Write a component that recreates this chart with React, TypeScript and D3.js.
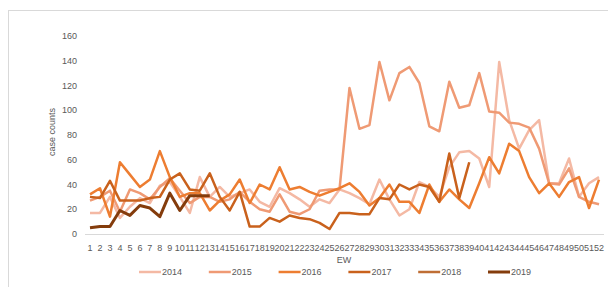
import React, { useEffect, useRef } from "react";
import * as d3 from "d3";

const weeks = d3.range(1, 53).map(String);
const years = ["2014", "2015", "2016", "2017", "2018", "2019"];
const yTicks = [0, 20, 40, 60, 80, 100, 120, 140, 160];

const cases2014 = [17, 17, 30, 13, 22, 29, 25, 39, 42, 30, 17, 46, 30, 38, 30, 33, 36, 26, 22, 37, 33, 28, 22, 28, 25, 36,
  33, 29, 24, 44, 28, 15, 20, 42, 38, 30, 54, 66, 67, 61, 38, 139, 92, 69, 84, 92, 41, 41, 61, 30, 41, 46];
const cases2015 = [27, 30, 35, 18, 36, 33, 28, 38, 45, 35, 25, 30, 30, 26, 28, 34, 26, 20, 18, 32, 18, 16, 20, 35, 36, 36,
  118, 85, 88, 139, 108, 130, 135, 122, 87, 83, 123, 102, 104, 130, 99, 98, 90, 89, 86, 69, 41, 40, 53, 30, 26, 24];
const cases2016 = [32, 37, 14, 58, 48, 38, 44, 67, 46, 30, 33, 33, 19, 27, 32, 44, 25, 40, 36, 54, 36, 38, 34, 31, 34, 37,
  41, 34, 23, 29, 40, 26, 26, 17, 40, 26, 36, 28, 21, 41, 62, 49, 73, 67, 46, 33, 41, 30, 42, 46, 21, 44];
const cases2017 = [30, 29, 43, 27, 27, 27, 29, 30, 44, 49, 36, 35, 49, 30, 19, 34, 6, 6, 13, 10, 15, 13, 12, 9, 4, 17,
  17, 16, 16, 29, 28, 40, 36, 40, 38, 26, 65, 29, 58];
const cases2018: number[] = [];
const cases2019 = [5, 6, 6, 19, 15, 23, 21, 14, 33, 19, 31, 31, 31];

const series = [cases2014, cases2015, cases2016, cases2017, cases2018, cases2019];
const colors = ["#F4B9A4", "#EF9A74", "#ED7D31", "#C9611C", "#BF6E34", "#843C0C"];
const widths = [2.5, 2.5, 2.5, 2.5, 2.5, 3];

export default function App() {
  const ref = useRef<SVGSVGElement>(null);

  useEffect(() => {
    const svg = d3.select(ref.current);
    svg.selectAll("*").remove();
    const font = "'Liberation Sans', Arial, sans-serif";

    svg.append("rect")
      .attr("x", 8.5).attr("y", 10.5)
      .attr("width", 640).attr("height", 300)
      .attr("fill", "#ffffff").attr("stroke", "#d9d9d9");

    const x = d3.scaleBand().domain(weeks).range([85, 604]).padding(0);
    const y = d3.scaleLinear().domain([0, 160]).range([234, 36]);
    const cx = (w: string) => (x(w) as number) + x.bandwidth() / 2;

    // y axis labels
    svg.append("g")
      .selectAll("text")
      .data(yTicks)
      .enter()
      .append("text")
      .attr("x", 77)
      .attr("y", d => y(d) + 3)
      .attr("text-anchor", "end")
      .attr("font-family", font)
      .attr("font-size", 9)
      .attr("fill", "#595959")
      .text(d => d);

    // x axis line
    svg.append("line")
      .attr("x1", 85).attr("x2", 604)
      .attr("y1", y(0) + 0.5).attr("y2", y(0) + 0.5)
      .attr("stroke", "#d9d9d9");

    svg.append("g")
      .selectAll("text")
      .data(weeks)
      .enter()
      .append("text")
      .attr("x", d => cx(d))
      .attr("y", 251)
      .attr("text-anchor", "middle")
      .attr("font-family", font)
      .attr("font-size", 9)
      .attr("fill", "#595959")
      .text(d => d);

    svg.append("text")
      .attr("transform", "translate(55,132) rotate(-90)")
      .attr("text-anchor", "middle")
      .attr("font-family", font)
      .attr("font-size", 9)
      .attr("fill", "#595959")
      .text("case counts");

    svg.append("text")
      .attr("x", 344).attr("y", 263)
      .attr("text-anchor", "middle")
      .attr("font-family", font)
      .attr("font-size", 9)
      .attr("fill", "#595959")
      .text("EW");

    // lines
    const line = d3.line<number>()
      .x((d, i) => cx(weeks[i]))
      .y(d => y(d));

    series.forEach((s, i) => {
      if (!s.length) return;
      svg.append("path")
        .datum(s)
        .attr("d", line)
        .attr("fill", "none")
        .attr("stroke", colors[i])
        .attr("stroke-width", widths[i])
        .attr("stroke-linejoin", "round");
    });

    // legend
    const lg = svg.append("g").selectAll("g")
      .data(years)
      .enter()
      .append("g")
      .attr("transform", (d, i) => `translate(${139 + i * 69.8},272)`);
    lg.append("line")
      .attr("x1", 0).attr("x2", 22)
      .attr("stroke", (d, i) => colors[i])
      .attr("stroke-width", (d, i) => widths[i]);
    lg.append("text")
      .attr("x", 23).attr("y", 3)
      .attr("font-family", font)
      .attr("font-size", 9)
      .attr("fill", "#595959")
      .text(d => d);
  }, []);

  return (
    <svg ref={ref} width={608} height={287}
      style={{ position: "absolute", left: 0, top: 0, background: "#fff" }} />
  );
}
